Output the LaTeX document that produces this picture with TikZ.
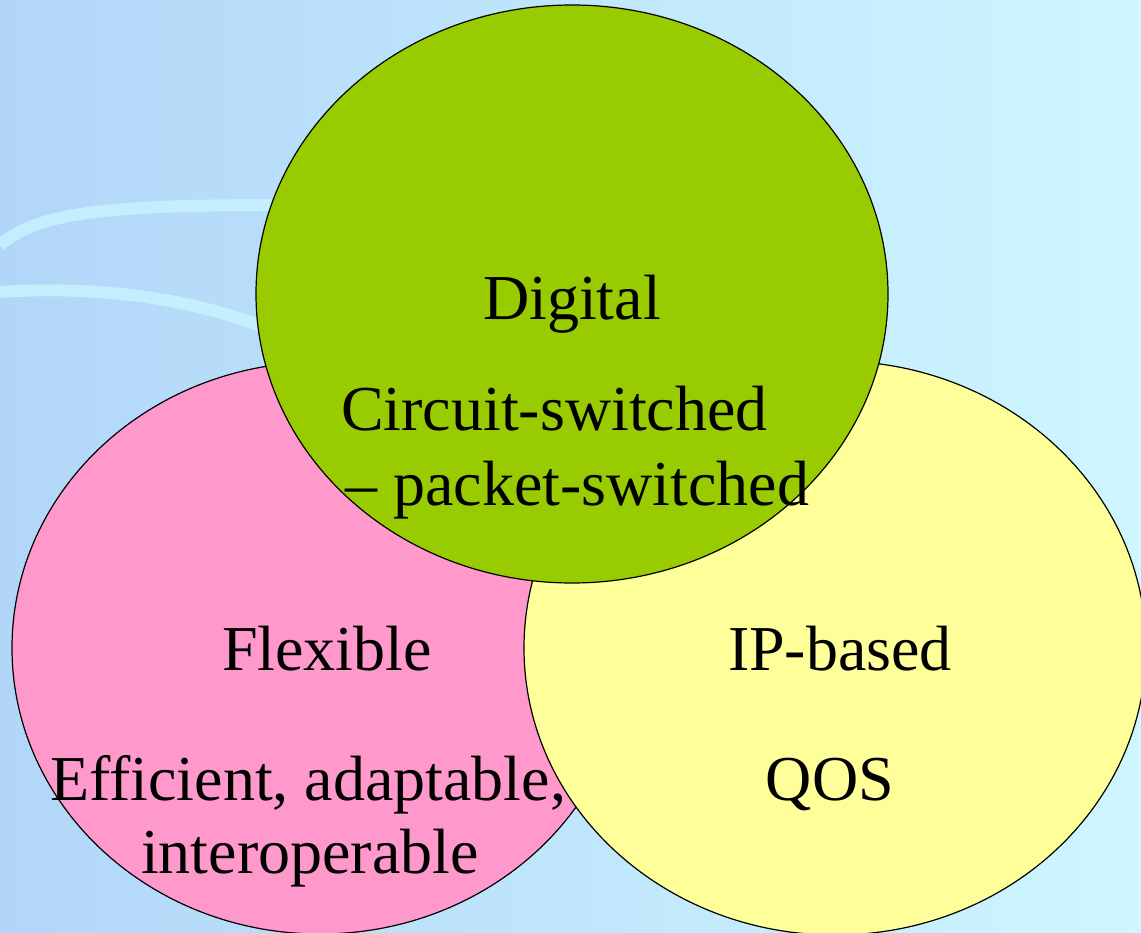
\documentclass[tikz,border=0pt]{standalone}
\usepackage{fontspec}
\setmainfont{Liberation Serif}
\usetikzlibrary{shapes.geometric}

\definecolor{bgleft}{RGB}{178,214,248}
\definecolor{bgright}{RGB}{206,246,255}
\definecolor{bgarc}{RGB}{200,244,255}
\definecolor{pinkfill}{RGB}{255,153,204}
\definecolor{yellowfill}{RGB}{255,255,153}
\definecolor{greenfill}{RGB}{153,204,0}

\tikzset{
  blob/.style = {ellipse, draw = black, line width = 1.2pt, inner sep = 0pt},
  words/.style = {font = \fontsize{64}{75}\selectfont, inner sep = 0pt, anchor = base}
}

\begin{document}
\begin{tikzpicture}[x = 1pt, y = -1pt]
        \useasboundingbox (0,0) rectangle (1141,933);
        \clip (0,0) rectangle (1141,933);

        % background
        \shade [left color = bgleft, right color = bgright]
        (0,0) rectangle (1141,933);

        \draw [bgarc, line width = 12pt, opacity = 0.8]
        (0,245) .. controls (40,210) and (120,205) .. (290,205);

        \draw [bgarc, line width = 12pt, opacity = 0.8]
        (0,292) .. controls (100,285) and (200,300) .. (270,330);

        % circles
        \node [blob, fill = pinkfill, minimum width = 616pt, minimum height = 572pt]
        (flexible) at (320,648) {};

        \node [words] (flex1) at (327,670) {Flexible};
        \node [words] (flex2) at (308,800) {Efficient, adaptable,};
        \node [words] (flex3) at (310,873) {interoperable};

        \node [blob, fill = yellowfill, minimum width = 622pt, minimum height = 574pt]
        (ipbased) at (835,648) {};

        \node [words] (ip1) at (840,670) {IP-based};
        \node [words] (ip2) at (830,800) {QOS};

        \node [blob, fill = greenfill, minimum width = 632pt, minimum height = 578pt]
        (digital) at (572,294) {};

        \node [words] (dig1) at (572,320) {Digital};
        \node [words, anchor = base west] (dig2) at (341,430) {Circuit-switched};
        \node [words, anchor = base west] (dig3) at (345,505) {-- packet-switched};
    \end{tikzpicture}
\end{document}
